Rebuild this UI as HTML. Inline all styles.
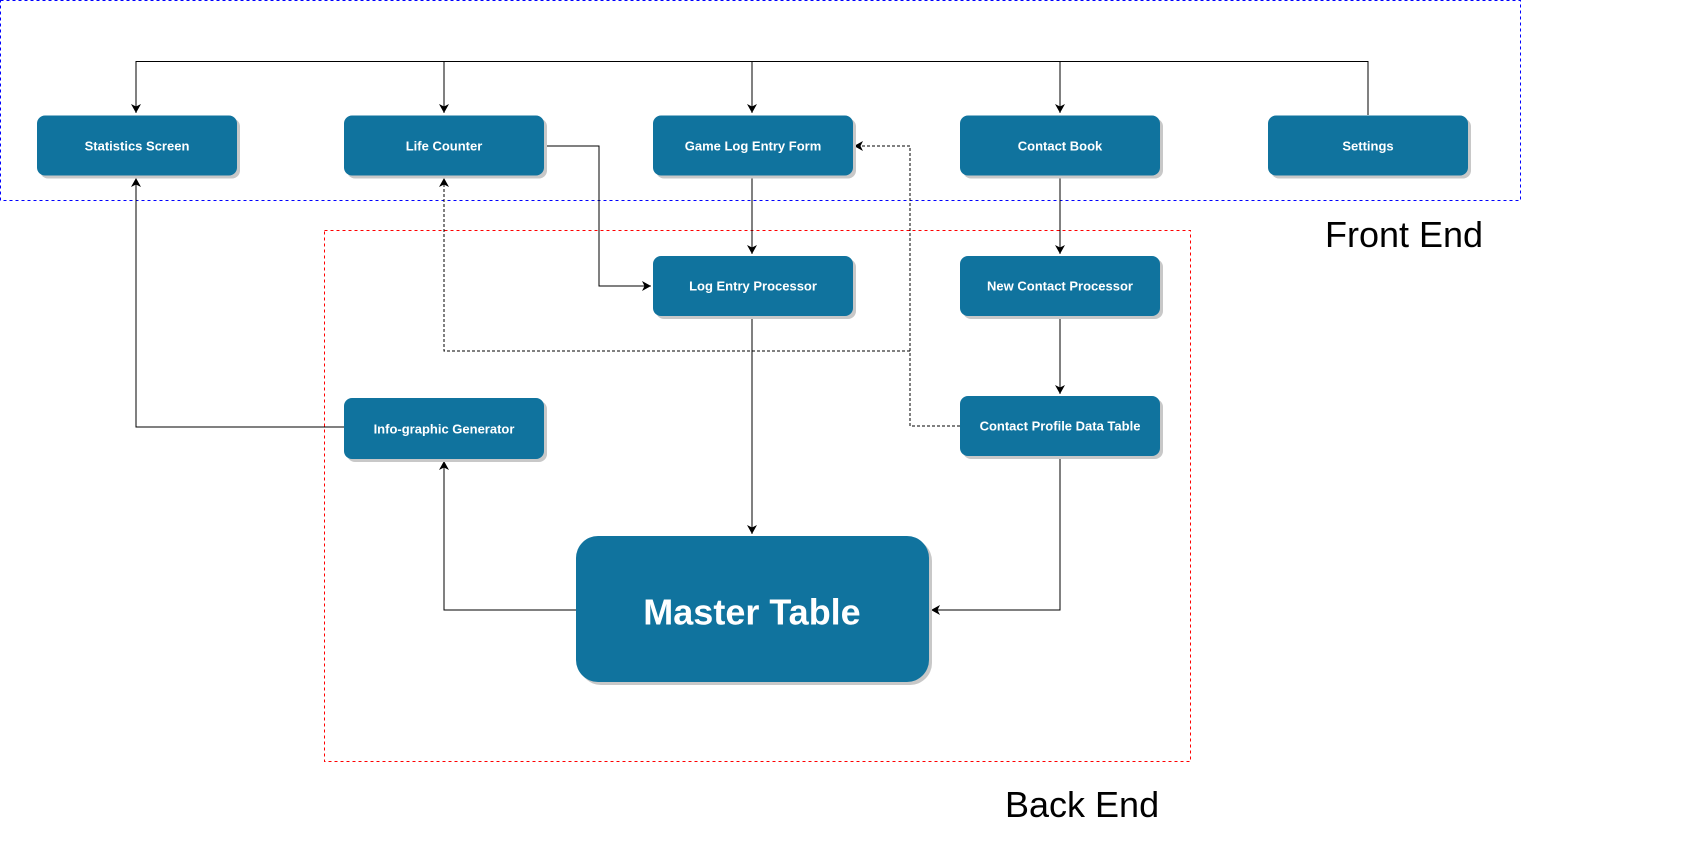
<!DOCTYPE html>
<html><head><meta charset="utf-8"><style>
html,body{margin:0;padding:0;background:#fff;}
svg{display:block;}
text{font-family:"Liberation Sans",Arial,sans-serif;}
.n{fill:#10739E;}
.s{fill:#c8c8c8;}
.t{fill:#fff;font-weight:bold;font-size:13px;text-anchor:middle;dominant-baseline:central;}
.l{stroke:#000;stroke-width:1;fill:none;}
.d{stroke:#000;stroke-width:1;fill:none;stroke-dasharray:3,2;}
</style></head><body>
<svg width="1692" height="851" viewBox="0 0 1692 851" xmlns="http://www.w3.org/2000/svg">
<defs><marker id="a" markerWidth="12" markerHeight="12" refX="9" refY="5" orient="auto" markerUnits="userSpaceOnUse"><path d="M0,0 L9,5 L0,10 L2.5,5 z" fill="#000"/></marker></defs>
<rect x="0.5" y="0.5" width="1520" height="200" fill="none" stroke="#0000ff" stroke-dasharray="3,3"/>
<rect x="324.5" y="230.5" width="866" height="531" fill="none" stroke="#ff0000" stroke-dasharray="3,3"/>
<text x="1325" y="247" font-size="36">Front End</text>
<text x="1005" y="817" font-size="36">Back End</text>

<path class="l" d="M1368,115 V61.5 H136 V113" marker-end="url(#a)"/>
<path class="l" d="M444,61.5 V113" marker-end="url(#a)"/>
<path class="l" d="M752,61.5 V113" marker-end="url(#a)"/>
<path class="l" d="M1060,61.5 V113" marker-end="url(#a)"/>
<path class="l" d="M545,146 H599 V286 H651" marker-end="url(#a)"/>
<path class="l" d="M752,176 V254" marker-end="url(#a)"/>
<path class="l" d="M1060,176 V254" marker-end="url(#a)"/>
<path class="l" d="M1060,316 V394" marker-end="url(#a)"/>
<path class="l" d="M752,316 V534" marker-end="url(#a)"/>
<path class="l" d="M1060,456 V610 H931" marker-end="url(#a)"/>
<path class="l" d="M576,610 H444 V461" marker-end="url(#a)"/>
<path class="l" d="M344,427 H136 V178" marker-end="url(#a)"/>
<path class="d" d="M960,426 H910 V146 H854" marker-end="url(#a)"/>
<path class="d" d="M910,351 H444 V178" marker-end="url(#a)"/>

<g>
<rect class="s" x="40" y="118.5" width="200" height="60" rx="8"/><rect class="n" x="37" y="115.5" width="200" height="60" rx="8"/><text class="t" x="137" y="146">Statistics Screen</text>
<rect class="s" x="347" y="118.5" width="200" height="60" rx="8"/><rect class="n" x="344" y="115.5" width="200" height="60" rx="8"/><text class="t" x="444" y="146">Life Counter</text>
<rect class="s" x="656" y="118.5" width="200" height="60" rx="8"/><rect class="n" x="653" y="115.5" width="200" height="60" rx="8"/><text class="t" x="753" y="146">Game Log Entry Form</text>
<rect class="s" x="963" y="118.5" width="200" height="60" rx="8"/><rect class="n" x="960" y="115.5" width="200" height="60" rx="8"/><text class="t" x="1060" y="146">Contact Book</text>
<rect class="s" x="1271" y="118.5" width="200" height="60" rx="8"/><rect class="n" x="1268" y="115.5" width="200" height="60" rx="8"/><text class="t" x="1368" y="146">Settings</text>
<rect class="s" x="656" y="259" width="200" height="60" rx="8"/><rect class="n" x="653" y="256" width="200" height="60" rx="8"/><text class="t" x="753" y="286">Log Entry Processor</text>
<rect class="s" x="963" y="259" width="200" height="60" rx="8"/><rect class="n" x="960" y="256" width="200" height="60" rx="8"/><text class="t" x="1060" y="286">New Contact Processor</text>
<rect class="s" x="347" y="401" width="200" height="61" rx="8"/><rect class="n" x="344" y="398" width="200" height="61" rx="8"/><text class="t" x="444" y="429">Info-graphic Generator</text>
<rect class="s" x="963" y="399" width="200" height="60" rx="8"/><rect class="n" x="960" y="396" width="200" height="60" rx="8"/><text class="t" x="1060" y="426">Contact Profile Data Table</text>
<rect class="s" x="579" y="539" width="353" height="146" rx="22"/><rect class="n" x="576" y="536" width="353" height="146" rx="22"/><text class="t" x="752" y="612" style="font-size:36px">Master Table</text>
</g>
</svg>
</body></html>
